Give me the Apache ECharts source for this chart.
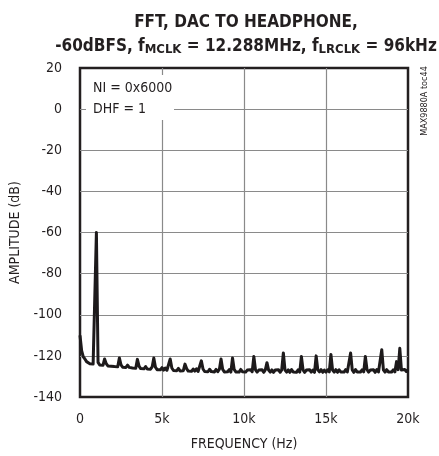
<!DOCTYPE html>
<html>
<head>
<meta charset="utf-8">
<script src="https://cdn.jsdelivr.net/npm/echarts@6/dist/echarts.min.js"></script>
<style>
  html, body { margin: 0; padding: 0; background: #fff; }
  #chart { width: 439px; height: 456px; }
</style>
</head>
<body>
<div id="chart"></div>
<script>
// FFT bins, 100 Hz apart, 0 .. 20 kHz (dB)
const binStep = 100;
const amplitude = [
  -110, -117.5, -120.5, -121.5, -122.8, -122.6, -123.8, -123.1, -124.0, -123.3,
  -60, -123.2, -124.4, -123.5, -124.6, -121.5, -123.8, -124.9, -124.3, -125.0,
  -124.1, -125.2, -124.6, -125.3, -121, -124.4, -125.5, -124.8, -125.6, -124.5,
  -125.6, -124.9, -125.9, -125.1, -126.0, -121.7, -125.0, -126.2, -125.3, -126.3,
  -125.2, -126.4, -125.6, -126.5, -125.4, -121, -125.5, -126.7, -125.8, -126.8,
  -125.7, -126.9, -125.9, -127.0, -126.2, -121.5, -125.9, -127.1, -126.3, -127.2,
  -126.1, -127.3, -126.5, -127.2, -124, -126.2, -127.4, -126.6, -127.5, -126.4,
  -127.4, -126.3, -127.6, -126.7, -122.4, -126.4, -127.6, -126.8, -127.7, -126.5,
  -127.6, -126.7, -127.8, -126.6, -127.7, -126.5, -121.5, -126.6, -127.8, -126.9,
  -127.7, -126.7, -127.9, -121, -126.6, -127.8, -126.9, -127.9, -126.6, -127.7,
  -126.8, -127.9, -126.9, -127.8, -126.7, -127.7, -120.3, -126.8, -127.9, -126.9,
  -127.8, -126.7, -128.0, -126.8, -123.3, -126.9, -127.9, -126.8, -128.0, -126.9,
  -127.8, -126.7, -128.0, -126.8, -118.6, -126.9, -127.9, -126.8, -128.0, -126.7,
  -127.8, -126.9, -128.0, -126.8, -127.9, -120.3, -126.8, -128.0, -126.9, -127.8,
  -126.7, -127.9, -126.9, -128.0, -120, -126.8, -127.8, -126.7, -128.0, -126.9,
  -127.9, -126.8, -127.8, -119.3, -126.9, -127.9, -126.7, -128.0, -126.8, -127.8,
  -126.9, -127.9, -126.7, -127.8, -126.9, -118.6, -126.8, -128.0, -126.7, -127.8,
  -126.9, -127.9, -126.8, -127.8, -120.3, -126.7, -127.9, -126.9, -127.8, -126.8,
  -128.0, -126.7, -127.8, -126.9, -117, -126.8, -127.9, -126.7, -127.8, -126.9,
  -127.9, -126.8, -127.8, -122.8, -126.7, -116.3, -126.9, -127.8, -126.6, -127.6,
  -126.7
];
const xTicks = ['0', '5k', '10k', '15k', '20k'];
const noteLines = ['NI = 0x6000', 'DHF = 1'];

const font = '"Liberation Sans Narrow", "DejaVu Sans Condensed", "Liberation Sans", sans-serif';

const points = amplitude.map((v, i) => [i * binStep, v]);

const chart = echarts.init(document.getElementById('chart'));
chart.setOption({
  animation: false,
  backgroundColor: '#fff',
  title: {
    text: 'FFT, DAC TO HEADPHONE,\n-60dBFS, f{s|MCLK} = 12.288MHz, f{s|LRCLK} = 96kHz',
    left: 241,
    top: 6,
    textAlign: 'center',
    textStyle: {
      fontFamily: font,
      fontWeight: 'bold',
      fontSize: 17,
      lineHeight: 24,
      color: '#231f20',
      rich: {
        s: { fontFamily: font, fontWeight: 'bold', fontSize: 13, padding: [6, 0, 0, 0], color: '#231f20' }
      }
    }
  },
  grid: {
    left: 80, top: 68, right: 31, bottom: 59,
    show: true, borderColor: '#231f20', borderWidth: 2.5,
    outerBoundsMode: 'none'
  },
  xAxis: {
    type: 'value', min: 0, max: 20000, interval: 5000,
    name: 'FREQUENCY (Hz)', nameLocation: 'middle', nameGap: 40,
    nameTextStyle: { fontFamily: font, fontSize: 14, color: '#231f20' },
    axisLine: { show: false }, axisTick: { show: false },
    axisLabel: {
      margin: 15, fontFamily: font, fontSize: 14, color: '#231f20',
      formatter: (v) => xTicks[v / 5000]
    },
    splitLine: { show: true, showMinLine: false, showMaxLine: false, lineStyle: { color: '#8a8a8a', width: 1.2 } }
  },
  yAxis: {
    type: 'value', min: -140, max: 20, interval: 20,
    name: 'AMPLITUDE (dB)', nameLocation: 'middle', nameGap: 54,
    nameTextStyle: { fontFamily: font, fontSize: 14, color: '#231f20' },
    axisLine: { show: false }, axisTick: { show: false },
    axisLabel: { margin: 18, fontFamily: font, fontSize: 14, color: '#231f20' },
    splitLine: { show: true, showMinLine: false, showMaxLine: false, lineStyle: { color: '#8a8a8a', width: 1.2 } }
  },
  series: [{
    type: 'line',
    data: points,
    symbol: 'none',
    lineStyle: { color: '#1d1a1b', width: 3, join: 'round' },
    z: 3
  }],
  graphic: [
    {
      type: 'rect', z: 10,
      shape: { x: 86, y: 75, width: 88, height: 45 },
      style: { fill: '#fff' }
    },
    {
      type: 'text', z: 11, left: 93, top: 78,
      style: { text: noteLines.join('\n'), fontFamily: font, fontSize: 14, lineHeight: 21, fill: '#231f20' }
    },
    {
      type: 'text', z: 11, x: 425, y: 101, rotation: Math.PI / 2,
      style: { text: 'MAX9880A toc44', fontFamily: font, fontSize: 9, fill: '#231f20', align: 'center', verticalAlign: 'middle' }
    }
  ]
});
</script>
</body>
</html>
